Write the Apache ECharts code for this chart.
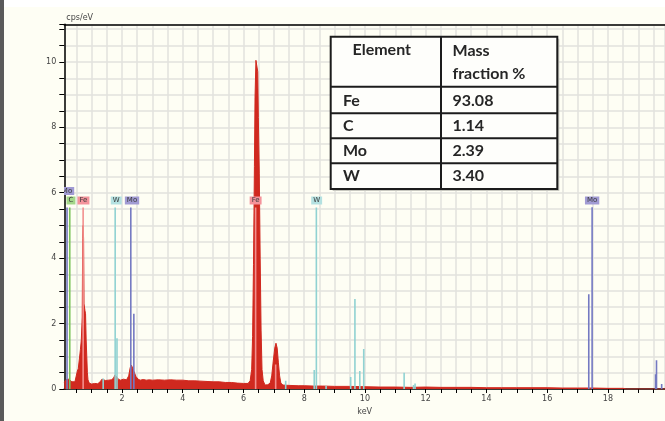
<!DOCTYPE html>
<html><head><meta charset="utf-8">
<script src="https://cdn.jsdelivr.net/npm/echarts@6/dist/echarts.min.js"></script>
<style>html,body{margin:0;padding:0;background:#fefef4;}#c{width:665px;height:421px;}</style>
</head><body><div id="c"></div>
<script>
// ---- data ----
const spectrum = [
[0.10,0.20],[0.15,0.28],[0.20,0.22],[0.25,0.30],[0.30,0.25],[0.35,0.22],[0.40,0.24],[0.45,0.22],[0.50,0.25],
[0.53,0.55],[0.56,0.62],[0.60,0.68],[0.63,1.2],[0.66,1.5],[0.69,2.2],[0.705,4.6],[0.72,5.0],[0.735,4.6],[0.75,2.6],
[0.78,2.4],[0.80,2.3],[0.82,1.5],[0.84,1.0],[0.86,0.5],[0.88,0.28],[0.92,0.18],[1.00,0.15],[1.10,0.17],[1.20,0.16],
[1.28,0.22],[1.34,0.30],[1.40,0.33],[1.46,0.26],[1.55,0.27],[1.65,0.28],[1.72,0.33],[1.77,0.43],[1.82,0.40],[1.88,0.30],
[1.95,0.27],[2.05,0.30],[2.15,0.28],[2.22,0.40],[2.27,0.65],[2.31,0.73],[2.35,0.68],[2.40,0.52],[2.46,0.38],[2.53,0.30],
[2.60,0.27],[2.70,0.29],[2.80,0.27],[2.90,0.28],[3.00,0.27],[3.2,0.28],[3.4,0.27],[3.6,0.28],[3.8,0.27],[4.0,0.27],
[4.2,0.25],[4.4,0.25],[4.6,0.24],[4.8,0.23],[5.0,0.22],[5.2,0.22],[5.4,0.20],[5.6,0.20],[5.8,0.18],[6.0,0.17],[6.15,0.17],
[6.22,0.25],[6.27,0.6],[6.30,1.6],[6.33,3.8],[6.36,6.8],[6.38,8.9],[6.41,10.05],[6.44,10.0],[6.47,9.7],[6.49,8.3],
[6.52,6.6],[6.55,4.0],[6.58,1.8],[6.61,0.6],[6.65,0.25],[6.71,0.12],[6.80,0.13],[6.88,0.18],[6.93,0.4],[6.98,0.85],
[7.03,1.25],[7.07,1.40],[7.11,1.25],[7.15,0.8],[7.19,0.4],[7.23,0.18],[7.3,0.12],[7.5,0.11],[7.8,0.10],[8.0,0.10],
[8.3,0.09],[8.6,0.09],[9.0,0.08],[9.5,0.08],[10.0,0.07],[10.5,0.06],[11.0,0.06],[11.5,0.05],[12.0,0.06],[12.5,0.05],
[13.0,0.05],[13.5,0.05],[14.0,0.04],[14.5,0.04],[15.0,0.04],[15.5,0.04],[16.0,0.04],[16.5,0.03],[17.0,0.03],[17.5,0.03],
[18.0,0.02],[18.5,0.02],[18.6,0.0],[19.88,0.0]
];
const moLines = [[0.19,5.55],[2.29,5.55],[2.39,2.3],[17.37,2.9],[17.48,5.56],[19.57,0.45],[19.60,0.88],[19.77,0.15]];
const cLines  = [[0.28,5.55]];
const feLines = [[0.72,5.55],[6.40,5.55],[7.06,0.75]];
const wLines  = [[1.38,0.32],[1.775,5.55],[1.835,1.55],[7.39,0.25],[8.33,0.58],[8.40,5.55],[8.72,0.10],[9.53,0.37],
                 [9.67,2.75],[9.83,0.55],[9.96,1.22],[11.29,0.5],[11.60,0.12],[11.65,0.17]];
const chips = [['Mo',0.19,6.05],['C',0.32,5.76],['Fe',0.73,5.76],['W',1.81,5.76],['Mo',2.33,5.76],
               ['Fe',6.40,5.76],['W',8.41,5.76],['Mo',17.48,5.76]];
const tableElements = ['Fe','C','Mo','W'];
const tableMass = ['93.08','1.14','2.39','3.40'];
const tableHeader = ['Element','Mass','fraction %'];

// ---- styles ----
const lineColors = {Mo:'#7479c2', C:'#7cc35c', Fe:'#f2908e', W:'#90d2d2'};
const chipColors = {Mo:'#a19bd4', C:'#a3d78a', Fe:'#f4939b', W:'#b4e1e1'};

function markerSeries(name, data){
  return {
    type:'custom', name, data, clip:true, z:5,
    renderItem(params, api){
      const p0 = api.coord([api.value(0),0]);
      const p1 = api.coord([api.value(0),api.value(1)]);
      return {type:'line', shape:{x1:p0[0],y1:p0[1],x2:p1[0],y2:p1[1]},
              style:{stroke:lineColors[name], lineWidth:1.6}};
    }
  };
}

const chart = echarts.init(document.getElementById('c'), null, {renderer:'canvas'});

// table graphics
const TX=330.7, TY=36.7, TW=226.6, TH=152.3, COL=441;
const rowLines=[86.7,113.3,138.3,163.3];
const rowCenters=[100.8,126.2,150.8,175.8];
const tfont = {fontFamily:'Lato', fontSize:16, fontWeight:'bold', fill:'#262626'};
const g = [];
g.push({type:'rect', z:100, shape:{x:TX+2,y:TY+2,width:TW,height:TH}, style:{fill:'#c8c8c0'}});
g.push({type:'rect', z:101, shape:{x:TX,y:TY,width:TW,height:TH}, style:{fill:'#fefefb', stroke:'#1c1c1c', lineWidth:2}});
g.push({type:'line', z:102, shape:{x1:COL,y1:TY,x2:COL,y2:TY+TH}, style:{stroke:'#1c1c1c', lineWidth:2}});
rowLines.forEach(y=>g.push({type:'line', z:102, shape:{x1:TX,y1:y,x2:TX+TW,y2:y}, style:{stroke:'#1c1c1c', lineWidth:2}}));
g.push({type:'text', z:103, style:Object.assign({text:tableHeader[0], x:352.5, y:50, verticalAlign:'middle'}, tfont)});
g.push({type:'text', z:103, style:Object.assign({text:tableHeader[1], x:452.5, y:51, verticalAlign:'middle'}, tfont)});
g.push({type:'text', z:103, style:Object.assign({text:tableHeader[2], x:452.5, y:73.5, verticalAlign:'middle'}, tfont)});
tableElements.forEach((e,i)=>{
  g.push({type:'text', z:103, style:Object.assign({text:e, x:343, y:rowCenters[i], verticalAlign:'middle'}, tfont)});
  g.push({type:'text', z:103, style:Object.assign({text:tableMass[i], x:452.5, y:rowCenters[i], verticalAlign:'middle'}, tfont)});
});
// photo edges
g.push({type:'rect', z:-10, shape:{x:0,y:0,width:665,height:7}, style:{fill:'#ffffff'}});
g.push({type:'rect', z:-10, shape:{x:0,y:0,width:4,height:421}, style:{fill:'#5a5a5a'}});

const axisFont = {fontFamily:'DejaVu Sans', fontSize:8, color:'#444'};
const evenLabel = v => (v > 0.3 && Math.abs(v/2 - Math.round(v/2)) < 1e-6) ? String(Math.round(v)) : '';

chart.setOption({
  backgroundColor:'#fefef4',
  animation:false,
  grid:{left:64.3, top:24.3, right:0, bottom:30.7},
  xAxis:[{
    type:'value', min:0.1, max:19.88, splitNumber:40, minInterval:0.5, maxInterval:0.5,
    name:'keV', nameLocation:'middle', nameGap:19, nameTextStyle:Object.assign({}, axisFont),
    axisLine:{lineStyle:{color:'#000', width:1.5}},
    axisTick:{length:4, lineStyle:{color:'#000', width:1}},
    axisLabel:Object.assign({formatter:evenLabel, margin:6, showMinLabel:false, showMaxLabel:false}, axisFont),
    splitLine:{show:true, lineStyle:{color:'#e2e2de', width:1.5}}
  },{
    type:'value', position:'top', min:0.1, max:19.88,
    axisLine:{lineStyle:{color:'#000', width:1.5}}, axisTick:{show:false}, axisLabel:{show:false}, splitLine:{show:false}
  }],
  yAxis:{
    type:'value', min:0, max:11.15, interval:0.5,
    name:'cps/eV', nameLocation:'end', nameGap:2,
    nameTextStyle:Object.assign({align:'left', verticalAlign:'bottom', padding:[0,0,0,2]}, axisFont),
    axisLine:{lineStyle:{color:'#000', width:1.5}},
    axisTick:{length:5, lineStyle:{color:'#000', width:1}},
    axisLabel:Object.assign({formatter:v=> (Math.abs(v/2-Math.round(v/2))<1e-6 && v<=10.01) ? String(Math.round(v)) : '', margin:8}, axisFont),
    splitLine:{show:true, lineStyle:{color:'#e2e2de', width:1.5}}
  },
  graphic:g,
  series:[
    {type:'line', data:spectrum, symbol:'none', z:3, clip:true,
     lineStyle:{color:'#d0291f', width:1}, areaStyle:{color:'#d0291f', opacity:1}},
    markerSeries('C', cLines),
    markerSeries('W', wLines),
    markerSeries('Mo', moLines),
    markerSeries('Fe', feLines),
    {type:'custom', data:chips.map(c=>[c[1],c[2],c[0]]), clip:true, z:6,
     renderItem(params, api){
       const name = chips[params.dataIndex][0];
       const p = api.coord([api.value(0), api.value(1)]);
       return {type:'text', style:{text:name, x:p[0], y:p[1], align:'center', verticalAlign:'middle',
               fontFamily:'DejaVu Sans', fontSize:7, fill:'#3a3a3a', backgroundColor:chipColors[name], padding:[1,2,0,2]}};
     }}
  ]
});
</script></body></html>
